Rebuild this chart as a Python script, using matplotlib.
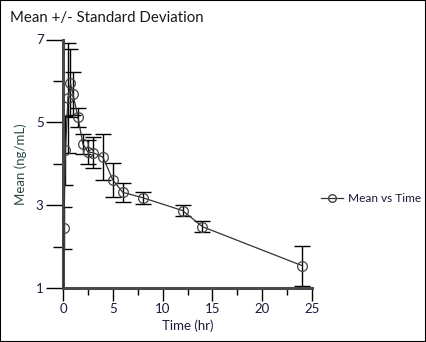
import matplotlib
matplotlib.use("Agg")
import matplotlib.pyplot as plt
from matplotlib.lines import Line2D
from matplotlib.patches import Rectangle
from matplotlib.ticker import FixedLocator

time_hr = [0, 0.083, 0.25, 0.5, 0.75, 1, 1.5, 2, 2.5, 3, 4, 5, 6, 8, 12, 14, 24]
mean_conc = [0, 2.45, 4.32, 5.59, 5.94, 5.69, 5.12, 4.48, 4.28, 4.27, 4.16, 3.61, 3.31, 3.18, 2.87, 2.48, 1.54]
sd_conc = [0, 0.5, 0.83, 1.33, 0.82, 0.52, 0.23, 0.25, 0.29, 0.38, 0.55, 0.41, 0.23, 0.14, 0.13, 0.13, 0.48]

x_major = [0, 5, 10, 15, 20, 25]
x_minor = [2.5, 7.5, 12.5, 17.5, 22.5]
y_major = [1, 3, 5, 7]
y_minor = [2, 4, 6]

title = "Mean +/- Standard Deviation"
xlabel = "Time (hr)"
ylabel = "Mean (ng/mL)"
series_label = "Mean vs Time"

plt.rcParams['font.family'] = ['Lato', 'DejaVu Sans']
fig = plt.figure(figsize=(4.26, 3.42), dpi=100)
ax = fig.add_axes([63/426, 1-288/342, (312-63)/426, (288-39.5)/342])

ax.errorbar(time_hr, mean_conc, yerr=sd_conc, fmt='none', ecolor='black',
            elinewidth=1.0, capsize=5.7, capthick=1.0, zorder=2)
ax.plot(time_hr, mean_conc, color='#333333', lw=0.9, marker='o', markersize=7,
        markerfacecolor='none', markeredgecolor='#444444', markeredgewidth=0.9, zorder=3)

ax.set_xlim(0, 25)
ax.set_ylim(1, 7)
ax.xaxis.set_major_locator(FixedLocator(x_major))
ax.xaxis.set_minor_locator(FixedLocator(x_minor))
ax.yaxis.set_major_locator(FixedLocator(y_major))
ax.yaxis.set_minor_locator(FixedLocator(y_minor))
ax.tick_params(axis='x', which='major', length=9, width=1, color='black', labelsize=9.5, labelcolor='#1a1a3a', pad=2)
ax.tick_params(axis='x', which='minor', length=5, width=1, color='black')
ax.tick_params(axis='y', which='major', length=12, width=1, color='black', labelsize=9.5, labelcolor='#1a1a3a', pad=2)
ax.tick_params(axis='y', which='minor', length=7, width=1, color='black')
for s in ['top', 'right']:
    ax.spines[s].set_visible(False)
for s in ['left', 'bottom']:
    ax.spines[s].set_linewidth(2.2)
    ax.spines[s].set_color('#4a4a4a')

ax.set_xlabel(xlabel, fontsize=9.5, color='#1a1a3a', labelpad=3)
ax.set_ylabel(ylabel, fontsize=9.5, color='#2a4a4a', labelpad=6)

handle = Line2D([], [], color='#333333', lw=0.9, marker='o', markersize=5.5,
                markerfacecolor='none', markeredgecolor='#444444')
fig.legend([handle], [series_label], loc='center left', bbox_to_anchor=(316/426, 1-199/342),
           frameon=False, fontsize=8.6, handlelength=1.9, handletextpad=0.35, labelcolor='#1a1a3a',
           borderpad=0.2, borderaxespad=0.2)

fig.text(10/426, 1-18/342, title, fontsize=10.8, ha='left', va='center', color='#1a1a1a')
fig.patches.append(Rectangle((0, 0), 1, 1, transform=fig.transFigure, fill=False,
                             edgecolor='black', lw=1.5))

fig.savefig("out.png", dpi=100)
